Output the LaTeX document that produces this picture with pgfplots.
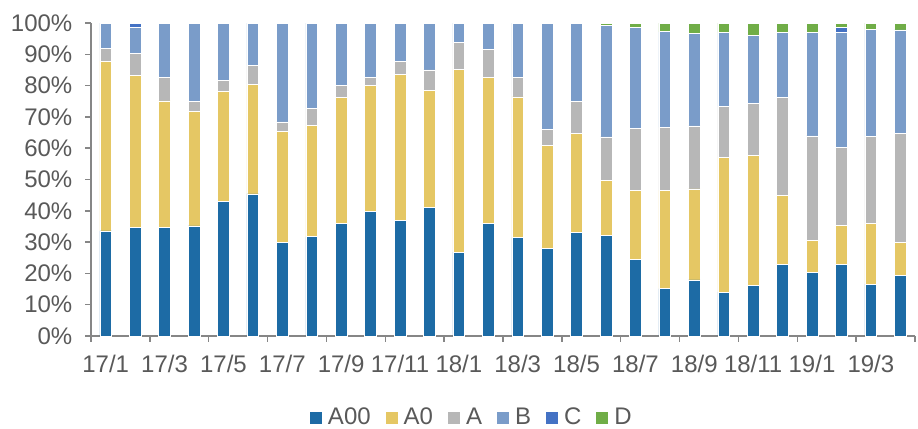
\documentclass[border=0pt]{standalone}
\usepackage{pgfplots}
\usepackage{pgfplotstable}
\pgfplotsset{compat=1.18}
\usepackage{fontspec}
\setmainfont{Liberation Sans}
\definecolor{cA00}{RGB}{29,107,165}
\definecolor{cA0}{RGB}{229,199,100}
\definecolor{cA}{RGB}{183,183,183}
\definecolor{cB}{RGB}{122,156,201}
\definecolor{cC}{RGB}{68,114,196}
\definecolor{cD}{RGB}{112,173,71}
\definecolor{txt}{RGB}{89,89,89}
\definecolor{axc}{RGB}{134,134,134}
\pgfplotstableread{
x A00 A0 A B C D
0 33.6 54.2 4.0 8.2 0 0
1 34.6 48.7 7.1 8.3 1.3 0
2 34.8 40.3 7.6 17.3 0 0
3 35.2 36.6 3.2 25.0 0 0
4 43.1 35.1 3.5 18.3 0 0
5 45.4 34.9 6.2 13.5 0 0
6 30.0 35.3 3.1 31.6 0 0
7 31.7 35.5 5.6 27.2 0 0
8 36.0 40.2 3.9 19.9 0 0
9 39.7 40.3 2.7 17.3 0 0
10 37.0 46.5 4.3 12.2 0 0
11 41.1 37.3 6.6 15.0 0 0
12 26.8 58.5 8.5 6.2 0 0
13 35.9 46.7 9.0 8.4 0 0
14 31.4 45.0 6.3 17.3 0 0
15 27.9 33.1 5.1 33.8 0 0.1
16 33.1 31.7 10.2 24.8 0 0.2
17 32.2 17.4 14.0 35.7 0 0.7
18 24.6 21.9 19.8 32.2 0 1.5
19 15.1 31.4 20.2 30.5 0 2.8
20 17.9 29.1 20.1 29.7 0 3.2
21 14.0 43.1 16.2 23.6 0 3.1
22 16.1 41.6 16.7 21.7 0 3.9
23 23.0 21.9 31.3 20.7 0 3.1
24 20.3 10.2 33.4 33.2 0 2.9
25 22.8 12.5 25.0 36.7 1.5 1.5
26 16.6 19.4 27.8 34.1 0 2.1
27 19.3 10.7 34.8 33.0 0 2.2
}\datatable
\begin{document}
\begin{tikzpicture}
\begin{axis}[
  name=ax,
  width=412pt, height=156.5pt,
  scale only axis,
  ybar stacked,
  bar width=0.4,
  xmin=-0.5, xmax=27.5,
  ymin=0, ymax=100,
  axis x line*=bottom,
  axis y line*=left,
  axis line style={draw=axc, line width=0.75pt},
  tick style={draw=axc, line width=0.75pt},
  tick align=outside,
  major tick length=2.8pt,
  xtick={-0.5,1.5,...,27.5},
  xticklabels={17/1,17/3,17/5,17/7,17/9,17/11,18/1,18/3,18/5,18/7,18/9,18/11,19/1,19/3,},
  xticklabel style={xshift=7.357pt, yshift=-3pt},
  ytick={0,10,...,100},
  yticklabels={0\%,10\%,20\%,30\%,40\%,50\%,60\%,70\%,80\%,90\%,100\%},
  yticklabel style={xshift=-3pt},
  tick label style={font=\fontsize{12}{14}\selectfont, text=txt},
  every axis plot/.append style={draw=white, line width=0.3pt},
  legend columns=-1,
  legend style={at={(0.461,-0.262)}, anchor=center, draw=none, fill=none,
    font=\fontsize{12}{14}\selectfont, text=txt,
    nodes={inner xsep=0pt},
    /tikz/every odd column/.append style={column sep=3pt},
    /tikz/every even column/.append style={column sep=7.5pt}},
  legend image code/.code={\fill[#1,draw=none] (0pt,-3pt) rectangle (6pt,3pt);},
]
\addplot[fill=cA00] table[x=x,y=A00]{\datatable};
\addplot[fill=cA0] table[x=x,y=A0]{\datatable};
\addplot[fill=cA] table[x=x,y=A]{\datatable};
\addplot[fill=cB] table[x=x,y=B]{\datatable};
\addplot[fill=cC] table[x=x,y=C]{\datatable};
\addplot[fill=cD] table[x=x,y=D]{\datatable};
\legend{A00,A0,A,B,C,D}
\end{axis}
\pgfresetboundingbox
\useasboundingbox ([xshift=-45.5pt,yshift=-46pt]ax.south west) rectangle ([xshift=1.5pt,yshift=11.5pt]ax.north east);
\end{tikzpicture}
\end{document}
